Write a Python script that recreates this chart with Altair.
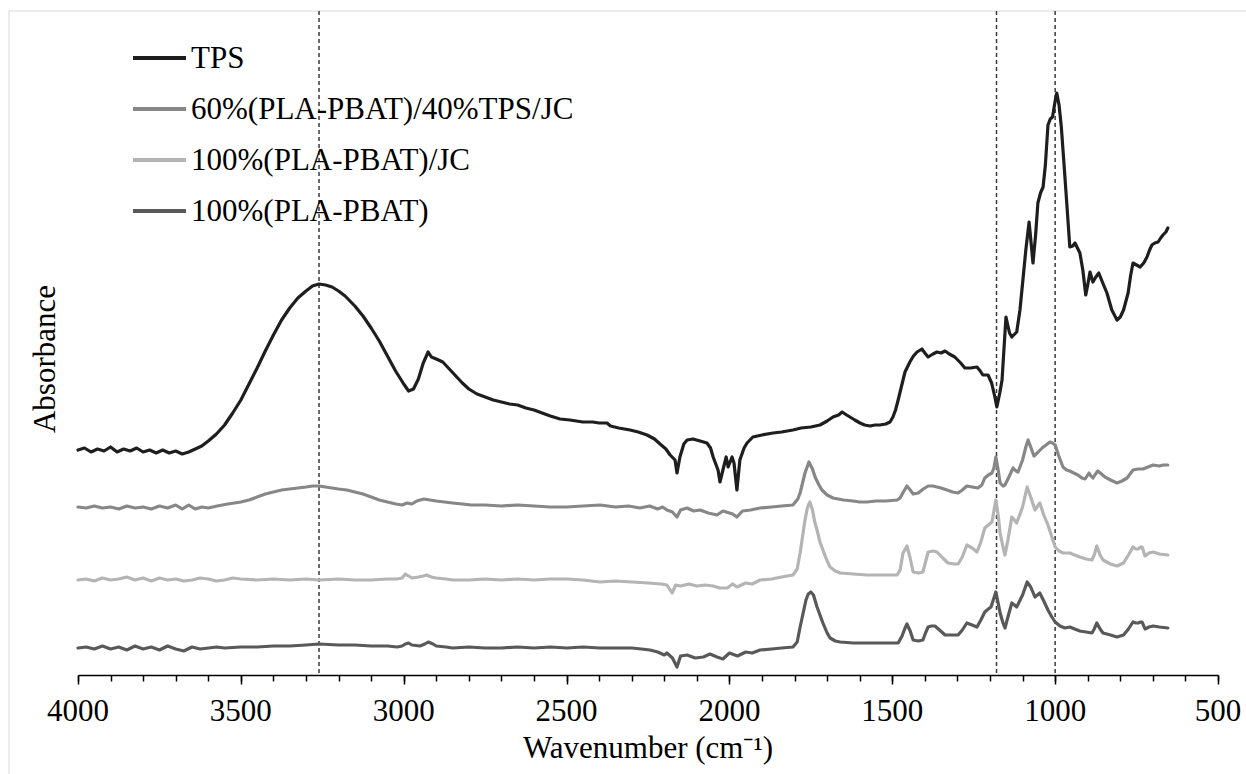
import altair as alt
import pandas as pd

FONT = "Liberation Serif"

series_names = ["TPS", "60%(PLA-PBAT)/40%TPS/JC", "100%(PLA-PBAT)/JC", "100%(PLA-PBAT)"]
series_colors = ["#1e1e1e", "#878787", "#b4b4b4", "#595959"]

# ---- TPS ----
tps_wn = [4000, 3980, 3960, 3940, 3920, 3900, 3880, 3860, 3840, 3820, 3800, 3780, 3760, 3740, 3720, 3700,
          3680, 3660, 3640, 3620, 3600, 3575, 3550, 3525, 3500, 3475, 3450, 3425, 3400, 3375, 3350, 3325,
          3300, 3280, 3260, 3240, 3220, 3200, 3180, 3150, 3125, 3100, 3075, 3050, 3025, 3000, 2985, 2970,
          2955, 2940, 2925, 2915, 2900, 2880, 2860, 2840, 2820, 2800, 2775, 2750, 2725, 2700, 2675, 2650,
          2625, 2600, 2575, 2550, 2520, 2490, 2450, 2420, 2400, 2376, 2365, 2340, 2305, 2280, 2253, 2230,
          2213, 2195, 2182, 2167, 2161, 2152, 2140, 2130, 2112, 2090, 2069, 2058, 2050, 2035, 2029, 2020,
          2010, 2004, 1992, 1986, 1977, 1968, 1955, 1946, 1928, 1900, 1866, 1840, 1805, 1780, 1750, 1722,
          1700, 1682, 1665, 1654, 1640, 1630, 1615, 1599, 1585, 1568, 1553, 1538, 1520, 1507, 1498, 1490,
          1482, 1467, 1461, 1446, 1435, 1424, 1409, 1400, 1390, 1375, 1363, 1350, 1338, 1325, 1308, 1290,
          1277, 1260, 1240, 1230, 1222, 1206, 1195, 1185, 1179, 1170, 1163, 1151, 1140, 1133, 1118, 1108,
          1099, 1090, 1080, 1068, 1060, 1053, 1045, 1037, 1030, 1022, 1015, 1008, 1000, 995, 988, 981,
          973, 965, 955, 946, 939, 924, 915, 906, 900, 893, 884, 875, 866, 855, 841, 826, 818, 810, 800,
          790, 776, 768, 761, 750, 739, 728, 718, 710, 703, 694, 684, 676, 669, 660, 654]
tps_ab = [225, 227, 223, 226, 224, 228, 223, 226, 224, 227, 223, 225, 222, 225, 222, 224,
          221, 223, 226, 229, 234, 241, 250, 262, 275, 291, 307, 324, 340, 355, 367, 377,
          384, 389, 391, 390, 388, 384, 379, 369, 359, 347, 334, 319, 304, 291, 284, 286,
          296, 312, 323, 318, 316, 313, 306, 299, 292, 286, 281, 278, 275, 273, 271, 270,
          267, 265, 262, 259, 256, 255, 253, 253, 252, 252, 249, 247, 245, 243, 240, 236,
          231, 226, 220, 215, 202, 218, 231, 235, 236, 234, 232, 227, 218, 205, 193, 205,
          218, 208, 218, 212, 185, 215, 227, 232, 238, 240, 242, 243, 245, 247, 248, 250,
          254, 258, 260, 263, 260, 258, 255, 252, 250, 249, 250, 250, 251, 253, 258, 265,
          275, 295, 303, 313, 319, 323, 326, 322, 318, 321, 323, 322, 324, 321, 318, 312,
          307, 307, 308, 304, 300, 300, 292, 278, 268, 282, 295, 358, 342, 338, 343, 365,
          395, 425, 453, 412, 440, 472, 482, 488, 510, 550, 556, 558, 574, 582, 570, 548,
          512, 475, 428, 429, 432, 422, 405, 380, 390, 403, 393, 398, 402, 393, 382, 365, 360, 355, 358,
          365, 382, 400, 412, 410, 408, 412, 418, 425, 430, 432, 433, 437, 440, 443, 447]

# ---- 60%(PLA-PBAT)/40%TPS/JC ----
b60_wn = [4000, 3975, 3950, 3925, 3900, 3875, 3850, 3825, 3800, 3775, 3750, 3725, 3700, 3680, 3660, 3640,
          3620, 3600, 3573, 3540, 3500, 3475, 3450, 3425, 3400, 3375, 3350, 3325, 3300, 3280, 3260, 3240,
          3220, 3200, 3175, 3150, 3125, 3100, 3075, 3050, 3024, 3005, 2990, 2975, 2960, 2938, 2920, 2900,
          2875, 2850, 2820, 2793, 2750, 2700, 2650, 2600, 2550, 2500, 2450, 2397, 2350, 2310, 2275, 2245,
          2220, 2205, 2192, 2175, 2161, 2150, 2130, 2110, 2090, 2065, 2038, 2020, 2010, 1990, 1977, 1960,
          1935, 1906, 1870, 1840, 1805, 1790, 1783, 1768, 1756, 1745, 1737, 1725, 1716, 1700, 1682, 1650,
          1620, 1600, 1578, 1550, 1520, 1485, 1476, 1466, 1455, 1445, 1436, 1420, 1405, 1390, 1375, 1363,
          1350, 1332, 1315, 1298, 1285, 1271, 1255, 1237, 1225, 1216, 1205, 1194, 1188, 1182, 1175, 1169,
          1160, 1154, 1142, 1129, 1120, 1114, 1100, 1090, 1083, 1075, 1065, 1055, 1040, 1028, 1016, 1008,
          1000, 990, 976, 965, 955, 943, 930, 918, 908, 896, 890, 884, 876, 869, 858, 847, 830, 810, 795,
          779, 770, 761, 745, 730, 715, 699, 680, 668, 654]
b60_ab = [168, 167, 169, 167, 168, 166, 169, 167, 168, 166, 169, 167, 170, 166, 170, 166,
          168, 167, 169, 171, 173, 175, 178, 181, 183, 185, 186, 187, 188, 189, 189, 188,
          187, 186, 185, 183, 181, 178, 175, 173, 171, 170, 172, 171, 174, 176, 175, 174,
          173, 172, 171, 170, 170, 169, 170, 169, 168, 168, 169, 170, 168, 169, 167, 169,
          166, 168, 165, 163, 158, 165, 167, 164, 165, 162, 160, 164, 163, 161, 158, 164,
          165, 167, 168, 169, 170, 176, 182, 202, 213, 206, 198, 190, 185, 180, 177, 175,
          174, 173, 173, 174, 174, 175, 177, 183, 189, 185, 181, 182, 186, 189, 189, 188,
          187, 185, 183, 182, 185, 189, 188, 187, 190, 197, 200, 202, 207, 218, 205, 192,
          189, 190, 198, 207, 204, 203, 215, 228, 235, 228, 219, 222, 227, 230, 233, 232,
          230, 220, 208, 205, 204, 202, 200, 197, 196, 202, 199, 197, 201, 204, 201, 198, 195, 192, 194,
          197, 201, 205, 206, 206, 208, 210, 209, 210, 210]

# ---- 100%(PLA-PBAT)/JC ----
jc_wn = [4000, 3975, 3950, 3925, 3900, 3875, 3850, 3825, 3800, 3775, 3750, 3725, 3700, 3675, 3650, 3625,
         3600, 3575, 3550, 3525, 3500, 3450, 3400, 3350, 3300, 3260, 3200, 3150, 3100, 3050, 3020, 3005,
         2995, 2985, 2975, 2955, 2940, 2930, 2915, 2900, 2870, 2850, 2800, 2750, 2700, 2650, 2600, 2550,
         2500, 2450, 2397, 2350, 2300, 2250, 2210, 2192, 2176, 2165, 2150, 2125, 2100, 2075, 2050, 2030,
         2007, 1990, 1977, 1950, 1930, 1906, 1870, 1840, 1805, 1792, 1783, 1768, 1760, 1753, 1745, 1738,
         1731, 1722, 1713, 1700, 1691, 1675, 1660, 1620, 1578, 1530, 1485, 1476, 1467, 1455, 1446, 1436,
         1420, 1406, 1398, 1390, 1375, 1363, 1345, 1329, 1310, 1298, 1285, 1271, 1255, 1240, 1228, 1216,
         1205, 1194, 1182, 1175, 1169, 1160, 1154, 1145, 1133, 1125, 1118, 1100, 1086, 1075, 1062, 1047,
         1035, 1022, 1010, 1000, 988, 976, 955, 940, 924, 905, 887, 880, 872, 862, 853, 830, 810, 790,
         775, 761, 752, 745, 738, 733, 724, 712, 699, 680, 654]
jc_ab = [95, 96, 94, 97, 95, 96, 98, 95, 97, 94, 97, 95, 96, 94, 95, 97,
         96, 94, 95, 97, 96, 95, 96, 95, 96, 95, 96, 95, 95, 96, 96, 97,
         101, 99, 97, 98, 99, 100, 98, 97, 96, 95, 95, 96, 95, 96, 95, 96,
         96, 95, 93, 94, 93, 92, 91, 90, 82, 90, 89, 91, 89, 90, 89, 87,
         87, 91, 88, 92, 91, 95, 96, 98, 100, 106, 122, 155, 168, 173, 165, 153,
         145, 133, 125, 114, 108, 104, 102, 101, 100, 100, 100, 105, 122, 129, 118, 103,
         102, 103, 113, 123, 124, 123, 117, 112, 111, 111, 118, 130, 127, 123, 133, 147,
         150, 153, 175, 160, 142, 128, 120, 135, 158, 155, 152, 168, 188, 178, 165, 172,
         160, 150, 138, 128, 124, 122, 122, 120, 118, 116, 115, 120, 129, 120, 115, 111, 109, 112,
         120, 128, 126, 126, 128, 128, 119, 122, 123, 121, 120]

# ---- 100%(PLA-PBAT) ----
pb_wn = [4000, 3975, 3950, 3925, 3900, 3875, 3850, 3825, 3800, 3775, 3750, 3725, 3700, 3675, 3650, 3625,
         3600, 3575, 3550, 3500, 3450, 3400, 3350, 3300, 3260, 3200, 3150, 3100, 3050, 3020, 3005, 2995,
         2985, 2975, 2950, 2935, 2925, 2910, 2900, 2870, 2850, 2800, 2750, 2700, 2650, 2600, 2550, 2500,
         2450, 2397, 2350, 2300, 2270, 2244, 2220, 2200, 2192, 2175, 2161, 2150, 2130, 2105, 2080, 2060,
         2038, 2020, 2000, 1975, 1950, 1930, 1906, 1870, 1840, 1805, 1792, 1783, 1765, 1758, 1750, 1742,
         1731, 1722, 1713, 1700, 1691, 1675, 1660, 1620, 1578, 1530, 1482, 1470, 1462, 1455, 1445, 1436,
         1420, 1406, 1398, 1390, 1380, 1369, 1355, 1338, 1320, 1298, 1285, 1271, 1255, 1240, 1228, 1216,
         1205, 1197, 1182, 1175, 1169, 1160, 1154, 1145, 1133, 1125, 1118, 1100, 1086, 1075, 1062, 1047,
         1035, 1022, 1010, 1000, 985, 970, 955, 940, 924, 905, 887, 880, 872, 862, 853, 830, 810, 790,
         775, 761, 752, 745, 738, 733, 724, 712, 699, 680, 654]
pb_ab = [27, 28, 26, 29, 26, 28, 25, 29, 26, 28, 25, 29, 26, 24, 28, 26,
         27, 28, 27, 28, 28, 29, 29, 30, 31, 30, 30, 29, 29, 28, 29, 31,
         32, 30, 29, 31, 33, 31, 29, 28, 27, 28, 27, 27, 28, 27, 28, 27,
         28, 27, 27, 27, 26, 25, 23, 20, 22, 17, 8, 19, 20, 17, 18, 21,
         18, 16, 22, 19, 23, 22, 25, 26, 27, 28, 33, 48, 75, 81, 83, 80,
         68, 60, 52, 42, 37, 34, 33, 32, 32, 32, 32, 39, 46, 51, 44, 35,
         34, 35, 42, 48, 49, 49, 45, 40, 40, 40, 45, 52, 50, 48, 55, 63,
         66, 68, 83, 72, 62, 52, 47, 58, 72, 70, 68, 80, 93, 88, 78, 82,
         74, 65, 58, 53, 49, 47, 48, 46, 44, 43, 42, 46, 52, 46, 42, 40, 38, 40,
         46, 53, 52, 52, 53, 53, 46, 48, 49, 48, 47]

marker_wn = [3260, 1180, 1000]
major_ticks = [4000, 3500, 3000, 2500, 2000, 1500, 1000, 500]
minor_ticks = [4000, 3900, 3800, 3700, 3600, 3500, 3400, 3300, 3200, 3100, 3000, 2900, 2800, 2700,
               2600, 2500, 2400, 2300, 2200, 2100, 2000, 1900, 1800, 1700, 1600, 1500, 1400, 1300,
               1200, 1100, 1000, 900, 800, 700, 600, 500]
x_title = "Wavenumber (cm⁻¹)"
y_title = "Absorbance"

rows = []
for name, wns, abs_ in zip(series_names,
                           [tps_wn, b60_wn, jc_wn, pb_wn],
                           [tps_ab, b60_ab, jc_ab, pb_ab]):
    for w, a in zip(wns, abs_):
        rows.append({"series": name, "wn": w, "ab": a})
df = pd.DataFrame(rows)

x_scale = alt.Scale(domain=[500, 4000], reverse=True, nice=False, zero=False)
y_scale = alt.Scale(domain=[0, 664], nice=False, zero=False)

major_axis = alt.Axis(
    values=major_ticks, orient="bottom", labels=False, title=None,
    tickSize=9, tickWidth=1.5, tickColor="black",
    domainColor="black", domainWidth=1.5, grid=False,
)
minor_axis = alt.Axis(
    values=minor_ticks, orient="bottom", labels=False, domain=False, grid=False,
    ticks=True, tickSize=6, tickWidth=1.5, tickColor="black", title=None,
)

one = pd.DataFrame({"k": [0]})
border_top = alt.Chart(one).mark_rule(color="#d9d9d9", strokeWidth=1).encode(
    x=alt.value(-69), x2=alt.value(1168), y=alt.value(0)
)
border_left = alt.Chart(one).mark_rule(color="#d9d9d9", strokeWidth=1).encode(
    x=alt.value(-69), y=alt.value(0), y2=alt.value(763)
)

markers = alt.Chart(pd.DataFrame({"wn": marker_wn})).mark_rule(
    color="#3a3a3a", strokeDash=[4, 3], strokeWidth=1.5
).encode(x=alt.X("wn:Q", scale=x_scale, axis=minor_axis))

lines = alt.Chart(df).mark_line(strokeWidth=3.2, strokeJoin="round", strokeCap="round").encode(
    x=alt.X("wn:Q", scale=x_scale, axis=major_axis),
    y=alt.Y("ab:Q", scale=y_scale, axis=None),
    color=alt.Color("series:N", scale=alt.Scale(domain=series_names, range=series_colors), legend=None),
)

# tick labels placed through the x scale
tick_labels = alt.Chart(pd.DataFrame({"wn": major_ticks})).mark_text(
    font=FONT, fontSize=31, align="center", baseline="alphabetic", color="black"
).encode(
    x=alt.X("wn:Q", scale=x_scale, axis=None),
    y=alt.value(710),
    text=alt.Text("wn:Q", format="d"),
)

x_title_mark = alt.Chart(one).mark_text(
    font=FONT, fontSize=31, align="center", baseline="alphabetic", color="black"
).encode(x=alt.value(570), y=alt.value(747), text=alt.value(x_title))

y_title_mark = alt.Chart(one).mark_text(
    font=FONT, fontSize=31, align="center", baseline="alphabetic", color="black", angle=270
).encode(x=alt.value(-23), y=alt.value(348), text=alt.value(y_title))

# legend drawn inside the plot, top-left
legend_layers = []
for i, (name, col) in enumerate(zip(series_names, series_colors)):
    row_y = 47 + 51 * i
    legend_layers.append(
        alt.Chart(one).mark_rule(strokeWidth=4, color=col).encode(
            x=alt.value(55), x2=alt.value(108), y=alt.value(row_y)
        )
    )
    legend_layers.append(
        alt.Chart(one).mark_text(
            font=FONT, fontSize=31, align="left", baseline="middle", color="black"
        ).encode(x=alt.value(113), y=alt.value(row_y + 1), text=alt.value(name))
    )

chart = alt.layer(
    border_top, border_left, markers, lines, tick_labels, x_title_mark, y_title_mark, *legend_layers
).resolve_axis(
    x="independent"
).properties(
    width=1140, height=664,
    autosize=alt.AutoSizeParams(type="none"),
    padding={"left": 78, "top": 11, "right": 28, "bottom": 99},
    background="white",
).configure_view(stroke=None)

chart.save("out.html", embed_options={"renderer": "svg", "actions": False})
